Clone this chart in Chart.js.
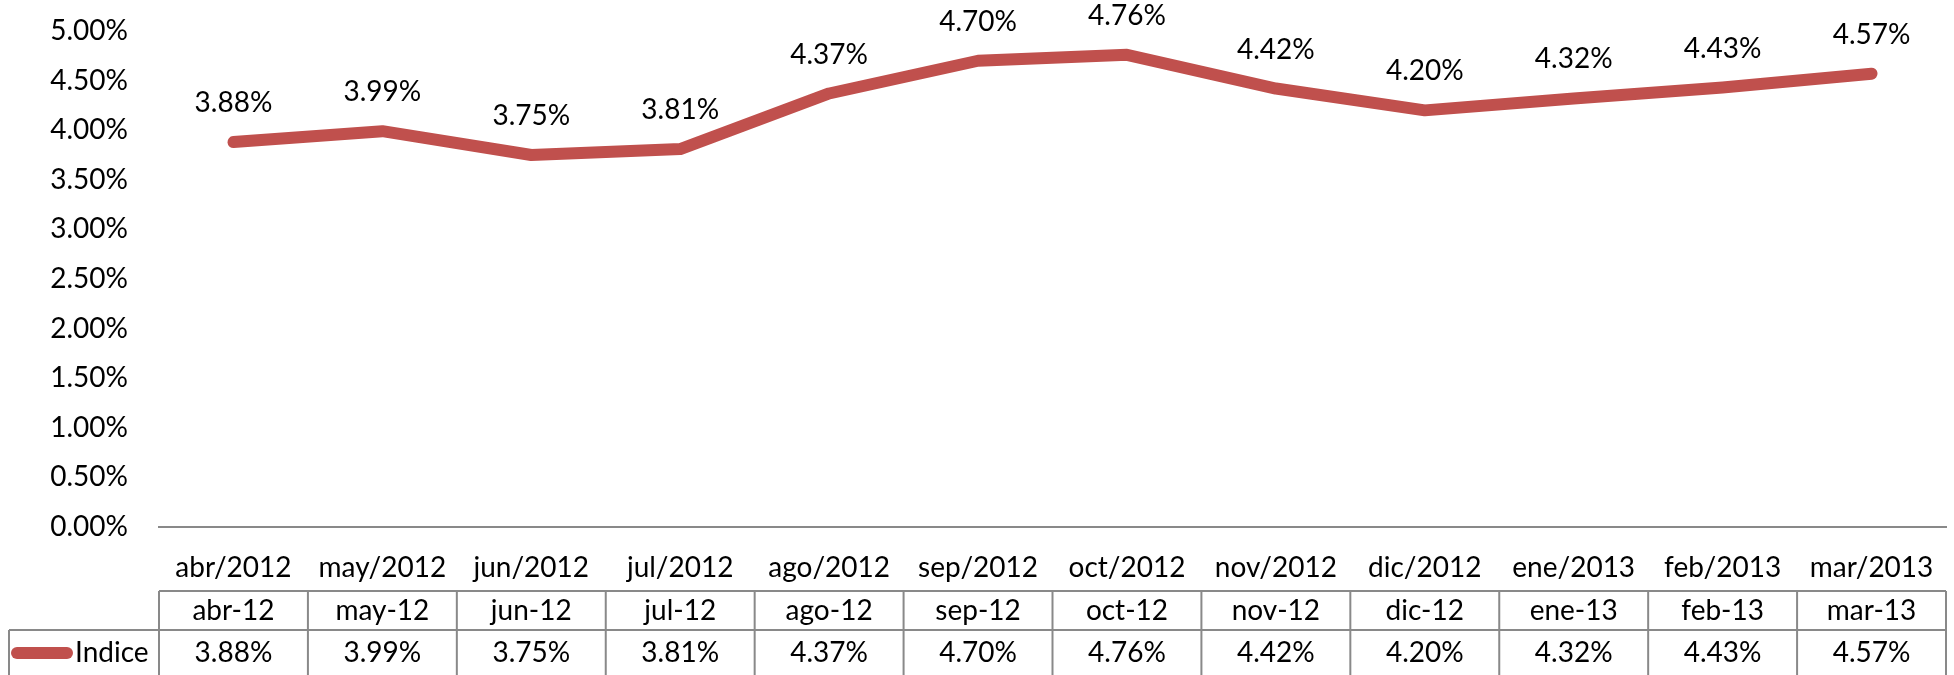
<!DOCTYPE html>
<html>
<head>
<meta charset="utf-8">
<script src="https://cdn.jsdelivr.net/npm/chart.js@4"></script>
<style>
html,body{margin:0;padding:0;background:#fff;}
#wrap{width:1954px;height:675px;}
</style>
</head>
<body>
<div id="wrap"><canvas id="c" width="1954" height="675"></canvas></div>
<script>
const categories = ["abr/2012","may/2012","jun/2012","jul/2012","ago/2012","sep/2012","oct/2012","nov/2012","dic/2012","ene/2013","feb/2013","mar/2013"];
const shortLabels = ["abr-12","may-12","jun-12","jul-12","ago-12","sep-12","oct-12","nov-12","dic-12","ene-13","feb-13","mar-13"];
const indice = [3.88, 3.99, 3.75, 3.81, 4.37, 4.70, 4.76, 4.42, 4.20, 4.32, 4.43, 4.57];
const seriesName = "Indice";
const yTicks = [0, 0.5, 1, 1.5, 2, 2.5, 3, 3.5, 4, 4.5, 5];

const LINE_COLOR = '#C0504D';
const GRID_COLOR = '#898989';
const FONT = '28px Lato';
const fmt = v => v.toFixed(2) + '%';

const labelPlugin = {
  id: 'pointLabels',
  afterDatasetsDraw(chart) {
    const ctx = chart.ctx;
    const meta = chart.getDatasetMeta(0);
    ctx.save();
    ctx.font = FONT;
    ctx.fillStyle = '#000';
    ctx.textAlign = 'center';
    ctx.textBaseline = 'middle';
    meta.data.forEach((pt, i) => {
      ctx.fillText(fmt(indice[i]), pt.x, pt.y - 39);
    });
    ctx.restore();
  }
};

const tablePlugin = {
  id: 'dataTable',
  afterDraw(chart) {
    const ctx = chart.ctx;
    const x = chart.scales.x;
    const left = chart.chartArea.left, right = chart.chartArea.right;
    const n = categories.length;
    const w = (right - left) / n;
    const r1Top = 591, r2Top = 630, bottom = 680, legLeft = 9;
    ctx.save();
    ctx.strokeStyle = GRID_COLOR;
    ctx.lineWidth = 2;
    ctx.beginPath();
    ctx.moveTo(left, r1Top); ctx.lineTo(right, r1Top);
    ctx.moveTo(legLeft, r2Top); ctx.lineTo(right, r2Top);
    ctx.moveTo(legLeft, r2Top); ctx.lineTo(legLeft, bottom);
    for (let i = 0; i <= n; i++) {
      const bx = left + i * w;
      ctx.moveTo(bx, r1Top); ctx.lineTo(bx, bottom);
    }
    ctx.stroke();
    ctx.font = FONT;
    ctx.fillStyle = '#000';
    ctx.textAlign = 'center';
    ctx.textBaseline = 'middle';
    for (let i = 0; i < n; i++) {
      const cx = x.getPixelForTick(i);
      ctx.fillText(shortLabels[i], cx, 611);
      ctx.fillText(fmt(indice[i]), cx, 653);
    }
    // legend key
    ctx.strokeStyle = LINE_COLOR;
    ctx.lineWidth = 12;
    ctx.lineCap = 'round';
    ctx.beginPath();
    ctx.moveTo(17, 653); ctx.lineTo(67, 653);
    ctx.stroke();
    ctx.textAlign = 'left';
    ctx.fillText(seriesName, 75, 653);
    ctx.restore();
  }
};

Chart.defaults.font.family = 'Lato';
Chart.defaults.font.size = 28;
Chart.defaults.color = '#000';

new Chart(document.getElementById('c'), {
  type: 'line',
  data: {
    labels: categories,
    datasets: [{
      label: seriesName,
      data: indice,
      borderColor: LINE_COLOR,
      backgroundColor: LINE_COLOR,
      borderWidth: 12,
      borderCapStyle: 'round',
      borderJoinStyle: 'round',
      pointRadius: 0,
      tension: 0,
      clip: false
    }]
  },
  options: {
    responsive: false,
    animation: false,
    layout: { padding: { left: 0, right: 8, top: 31, bottom: 0 }, autoPadding: false },
    plugins: { legend: { display: false }, tooltip: { enabled: false } },
    scales: {
      x: {
        offset: true,
        grid: { display: false, drawTicks: false },
        border: { display: true, color: GRID_COLOR, width: 2 },
        ticks: { padding: 24, maxRotation: 0, autoSkip: false, font: { size: 28 } },
        afterFit(s) { s.height = 148; s.paddingLeft = 0; s.paddingRight = 0; }
      },
      y: {
        min: 0, max: 5,
        grid: { display: false, drawTicks: false },
        border: { display: false },
        afterBuildTicks(s) { s.ticks = yTicks.map(v => ({ value: v })); },
        ticks: { padding: 31, callback: v => fmt(v), font: { size: 28 } },
        afterFit(s) { s.width = 159; s.paddingTop = 0; s.paddingBottom = 0; }
      }
    }
  },
  plugins: [labelPlugin, tablePlugin]
});
</script>
</body>
</html>
